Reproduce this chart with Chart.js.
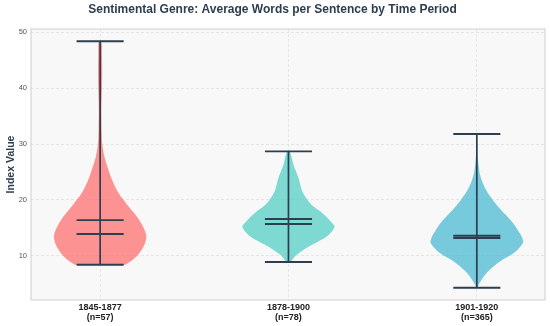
<!DOCTYPE html>
<html>
<head>
<meta charset="utf-8">
<script src="https://cdn.jsdelivr.net/npm/chart.js@4.4.0/dist/chart.umd.min.js"></script>
<style>
  html, body { margin: 0; padding: 0; background: #fff; }
  #wrap { width: 550px; height: 326px; }
</style>
</head>
<body>
<div id="wrap"><canvas id="violinChart"></canvas></div>
<script>
// categories
const periods = ['1845-1877', '1878-1900', '1901-1920'];
const counts = [57, 78, 365];

// summary stats
const mins = [8.4, 8.9, 4.3];
const maxs = [48.4, 28.7, 31.8];
const means = [16.4, 16.6, 13.6];
const medians = [13.9, 15.7, 13.2];

// density outlines (value, relative half width)
const dens1Y = [8.4, 9.3, 10, 11.1, 12, 13.2, 14, 15.2, 16.5, 17.7, 19, 20, 21, 22.3, 24, 25.4, 27.5, 29.8, 32, 34.3, 37, 40, 43, 46, 48.4];
const dens1W = [0.55, 0.71, 0.8, 0.9, 0.96, 1.0, 0.99, 0.93, 0.84, 0.73, 0.6, 0.51, 0.42, 0.33, 0.24, 0.18, 0.1, 0.05, 0.035, 0.03, 0.03, 0.04, 0.045, 0.04, 0.03];

const dens2Y = [8.9, 9.5, 10.2, 11.4, 12.6, 13.75, 15.2, 16.1, 17, 17.9, 18.8, 19.7, 21.5, 23.9, 26.25, 28.7];
const dens2W = [0.05, 0.1, 0.18, 0.39, 0.65, 0.87, 1.0, 0.92, 0.82, 0.7, 0.55, 0.44, 0.3, 0.22, 0.11, 0.03];

const dens3Y = [4.3, 5.0, 5.7, 7.2, 9.0, 10.5, 12.3, 13.3, 14.3, 15.5, 16.7, 18, 19.1, 20.3, 21.5, 23, 24.5, 26, 27.7, 29.5, 31.8];
const dens3W = [0.01, 0.05, 0.1, 0.24, 0.5, 0.8, 1.0, 0.98, 0.91, 0.82, 0.7, 0.55, 0.43, 0.32, 0.22, 0.13, 0.07, 0.04, 0.02, 0.01, 0.005];

const violinColors = ['rgba(255,107,107,0.72)', 'rgba(78,205,196,0.72)', 'rgba(69,183,209,0.72)'];
const lineColor = '#2c3e50';
const halfWidth = 0.245;
const capHalf = 0.125;

function outline(pos, ys, ws) {
    let pts = [];
    for (let i = 0; i < ys.length; i++) {
        pts.push({ x: pos + ws[i] * halfWidth, y: ys[i] });
    }
    for (let i = ys.length - 1; i >= 0; i--) {
        pts.push({ x: pos - ws[i] * halfWidth, y: ys[i] });
    }
    return pts;
}

const densities = [[dens1Y, dens1W], [dens2Y, dens2W], [dens3Y, dens3W]];
const datasets = densities.map((d, i) => ({
    data: outline(i + 1, d[0], d[1]),
    showLine: true,
    fill: 'shape',
    backgroundColor: violinColors[i],
    borderWidth: 0,
    borderColor: 'rgba(0,0,0,0)',
    pointRadius: 0,
    tension: 0.3
}));

// plot background + border
const plotBg = {
    id: 'plotBg',
    beforeDraw(chart) {
        const { ctx, chartArea: a } = chart;
        ctx.save();
        ctx.fillStyle = '#f8f8f8';
        ctx.fillRect(a.left, a.top, a.right - a.left, a.bottom - a.top);
        ctx.restore();
    },
    afterDraw(chart) {
        const { ctx, chartArea: a } = chart;
        ctx.save();
        ctx.strokeStyle = '#d6d6d6';
        ctx.lineWidth = 1.2;
        ctx.strokeRect(a.left, a.top, a.right - a.left, a.bottom - a.top);
        ctx.restore();
    }
};

// caps, means, medians and the vertical bars
const violinStats = {
    id: 'violinStats',
    afterDatasetsDraw(chart) {
        const { ctx } = chart;
        const xs = chart.scales.x;
        const ys = chart.scales.y;
        ctx.save();
        ctx.strokeStyle = lineColor;
        ctx.lineCap = 'butt';
        for (let i = 0; i < periods.length; i++) {
            const pos = i + 1;
            const cx = xs.getPixelForValue(pos);
            const l = xs.getPixelForValue(pos - capHalf);
            const r = xs.getPixelForValue(pos + capHalf);
            ctx.lineWidth = 1.7;
            ctx.beginPath();
            ctx.moveTo(cx, ys.getPixelForValue(mins[i]));
            ctx.lineTo(cx, ys.getPixelForValue(maxs[i]));
            ctx.stroke();
            ctx.lineWidth = 1.9;
            [mins[i], maxs[i], means[i], medians[i]].forEach(v => {
                const py = ys.getPixelForValue(v);
                ctx.beginPath();
                ctx.moveTo(l, py);
                ctx.lineTo(r, py);
                ctx.stroke();
            });
        }
        ctx.restore();
    }
};

const ctx = document.getElementById('violinChart').getContext('2d');
const chart = new Chart(ctx, {
    type: 'scatter',
    data: { datasets: datasets },
    options: {
        responsive: true,
        maintainAspectRatio: false,
        animation: false,
        layout: { padding: { left: 0, right: 5, top: 0, bottom: 0 } },
        plugins: {
            legend: { display: false },
            tooltip: { enabled: false },
            title: {
                display: true,
                text: 'Sentimental Genre: Average Words per Sentence by Time Period',
                color: '#2c3e50',
                font: { family: 'Liberation Sans', size: 12, weight: 'bold' },
                padding: { top: 2, bottom: 12.6 }
            }
        },
        scales: {
            x: {
                type: 'linear',
                min: 0.633,
                max: 3.362,
                afterBuildTicks: s => { s.ticks = periods.map((p, i) => ({ value: i + 1 })); },
                afterFit: s => { s.height = 26; },
                grid: { color: '#e0e0e0', lineWidth: 0.8, drawTicks: false },
                border: { display: false, dash: [3, 2] },
                ticks: {
                    color: '#222',
                    padding: 3,
                    maxRotation: 0,
                    font: { family: 'Liberation Sans', size: 9, weight: 'bold', lineHeight: 1.1 },
                    callback: (v, idx) => [periods[idx], '(n=' + counts[idx] + ')']
                }
            },
            y: {
                min: 2.1,
                max: 50.6,
                afterBuildTicks: s => { s.ticks = [10, 20, 30, 40, 50].map(v => ({ value: v })); },
                afterFit: s => { s.width = 31; },
                grid: { color: '#e0e0e0', lineWidth: 0.8, drawTicks: false },
                border: { display: false, dash: [3, 2] },
                ticks: {
                    color: '#555',
                    padding: 4,
                    font: { family: 'Liberation Sans', size: 7.5 }
                },
                title: {
                    display: true,
                    text: 'Index Value',
                    color: '#2c3e50',
                    padding: { top: 5, bottom: 0 },
                    font: { family: 'Liberation Sans', size: 10.5, weight: 'bold' }
                }
            }
        }
    },
    plugins: [plotBg, violinStats]
});
</script>
</body>
</html>
